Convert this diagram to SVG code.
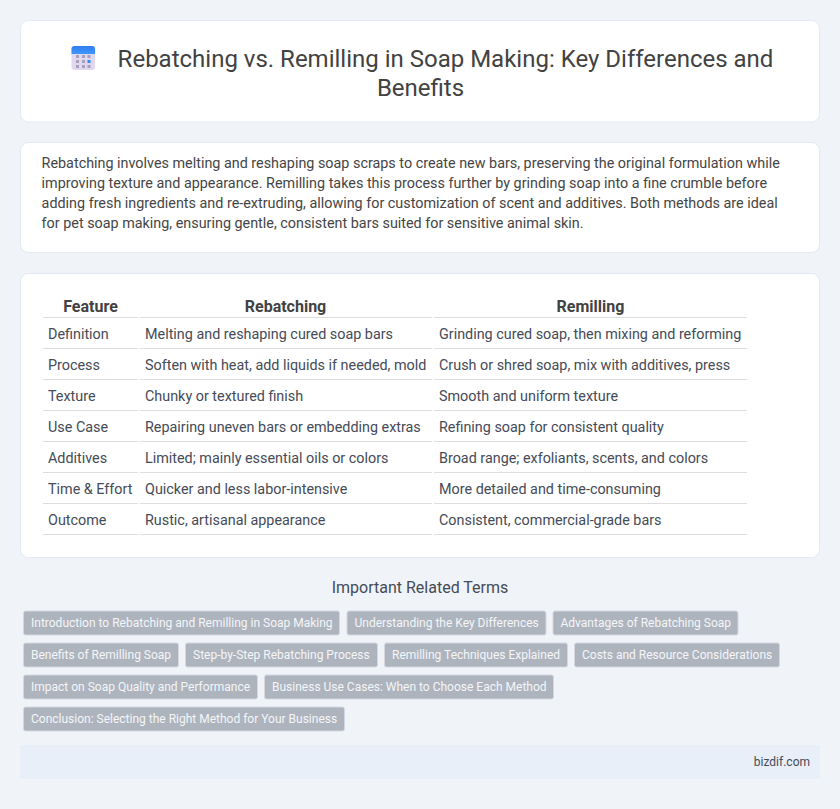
<svg xmlns="http://www.w3.org/2000/svg" width="840" height="809" viewBox="0 0 840 809">
<style>
text{font-family:Roboto,"Liberation Sans",sans-serif;}
.card{fill:#fff;stroke:#e3e8f2;stroke-width:1}
.title{font-size:24px;fill:#424242;text-anchor:middle}
.p{font-size:14.36px;fill:#454545}
.th{font-size:16px;font-weight:700;fill:#424242;text-anchor:middle}
.td{font-size:14.36px;fill:#454b57}
.rule{stroke:#dedede;stroke-width:1}
.tag rect{fill:#aeb4be;stroke:#d5d8de;stroke-width:1}
.tag text{font-size:12px;fill:#f4f6f8}
</style>
<defs><linearGradient id="top" x1="0" y1="0" x2="0" y2="1"><stop offset="0" stop-color="#2f7df0"/><stop offset="1" stop-color="#3f97fa"/></linearGradient></defs>
<rect width="840" height="809" fill="#f0f4f9"/>
<g id="header">
<rect class="card" x="20.500" y="20.500" width="799" height="101.500" rx="8"/>
<rect x="71.500" y="46" width="23.500" height="24" rx="3" fill="#e0d8ee"/>
<path d="M71.500 54V49a3 3 0 0 1 3-3H92a3 3 0 0 1 3 3v5z" fill="url(#top)"/>
<g fill="#ac9fbc"><rect x="76" y="55" width="3" height="3"/><rect x="82" y="55" width="3" height="3"/><rect x="87.500" y="55" width="3" height="3"/><rect x="76" y="60" width="3" height="3"/><rect x="82" y="60" width="3" height="3"/><rect x="76" y="65" width="3" height="3"/><rect x="82" y="65" width="3" height="3"/><rect x="87.500" y="65" width="3" height="3"/></g>
<rect x="87.500" y="60" width="3" height="3" fill="#2f8cf5"/>
<text class="title" x="445.500" y="67">Rebatching vs. Remilling in Soap Making: Key Differences and</text>
<text class="title" x="420.500" y="96">Benefits</text>
</g>
<g id="summary">
<rect class="card" x="20.500" y="142.500" width="799" height="110" rx="8"/>
<text class="p" x="41.600" y="168">Rebatching involves melting and reshaping soap scraps to create new bars, preserving the original formulation while</text>
<text class="p" x="41.600" y="188">improving texture and appearance. Remilling takes this process further by grinding soap into a fine crumble before</text>
<text class="p" x="41.600" y="208">adding fresh ingredients and re-extruding, allowing for customization of scent and additives. Both methods are ideal</text>
<text class="p" x="41.600" y="228">for pet soap making, ensuring gentle, consistent bars suited for sensitive animal skin.</text>
</g>
<g id="comparison">
<rect class="card" x="20.500" y="273.500" width="799" height="284" rx="8"/>
<text class="th" x="90.500" y="312">Feature</text><text class="th" x="285.500" y="312">Rebatching</text><text class="th" x="590.500" y="312">Remilling</text>
<g class="rule">
<path d="M43 317.500H138M140 317.500H432M434 317.500H747"/>
<path d="M43 348.500H138M140 348.500H432M434 348.500H747"/>
<path d="M43 379.500H138M140 379.500H432M434 379.500H747"/>
<path d="M43 410.500H138M140 410.500H432M434 410.500H747"/>
<path d="M43 441.500H138M140 441.500H432M434 441.500H747"/>
<path d="M43 472.500H138M140 472.500H432M434 472.500H747"/>
<path d="M43 503.500H138M140 503.500H432M434 503.500H747"/>
<path d="M43 534.500H138M140 534.500H432M434 534.500H747"/>
</g>
<g class="td">
<text x="48" y="339">Definition</text><text x="145" y="339">Melting and reshaping cured soap bars</text><text x="439" y="339">Grinding cured soap, then mixing and reforming</text>
<text x="48" y="370">Process</text><text x="145" y="370">Soften with heat, add liquids if needed, mold</text><text x="439" y="370">Crush or shred soap, mix with additives, press</text>
<text x="48" y="401">Texture</text><text x="145" y="401">Chunky or textured finish</text><text x="439" y="401">Smooth and uniform texture</text>
<text x="48" y="432">Use Case</text><text x="145" y="432">Repairing uneven bars or embedding extras</text><text x="439" y="432">Refining soap for consistent quality</text>
<text x="48" y="463">Additives</text><text x="145" y="463">Limited; mainly essential oils or colors</text><text x="439" y="463">Broad range; exfoliants, scents, and colors</text>
<text x="48" y="494">Time &amp; Effort</text><text x="145" y="494">Quicker and less labor-intensive</text><text x="439" y="494">More detailed and time-consuming</text>
<text x="48" y="525">Outcome</text><text x="145" y="525">Rustic, artisanal appearance</text><text x="439" y="525">Consistent, commercial-grade bars</text>
</g>
</g>
<text x="420" y="593" text-anchor="middle" font-size="16" fill="#454b57">Important Related Terms</text>
<g id="tags">
<g class="tag"><rect x="23.500" y="611" width="316" height="24" rx="2"/><text x="31" y="627">Introduction to Rebatching and Remilling in Soap Making</text></g>
<g class="tag"><rect x="347" y="611" width="199" height="24" rx="2"/><text x="354.500" y="627">Understanding the Key Differences</text></g>
<g class="tag"><rect x="553" y="611" width="185" height="24" rx="2"/><text x="560.500" y="627">Advantages of Rebatching Soap</text></g>
<g class="tag"><rect x="23.500" y="643" width="155" height="24" rx="2"/><text x="31" y="659">Benefits of Remilling Soap</text></g>
<g class="tag"><rect x="185.500" y="643" width="192" height="24" rx="2"/><text x="193" y="659">Step-by-Step Rebatching Process</text></g>
<g class="tag"><rect x="384.500" y="643" width="183" height="24" rx="2"/><text x="392" y="659">Remilling Techniques Explained</text></g>
<g class="tag"><rect x="574.500" y="643" width="205" height="24" rx="2"/><text x="582" y="659">Costs and Resource Considerations</text></g>
<g class="tag"><rect x="23.500" y="675" width="234" height="24" rx="2"/><text x="31" y="691">Impact on Soap Quality and Performance</text></g>
<g class="tag"><rect x="264.500" y="675" width="289" height="24" rx="2"/><text x="272" y="691">Business Use Cases: When to Choose Each Method</text></g>
<g class="tag"><rect x="23.500" y="707" width="321" height="24" rx="2"/><text x="31" y="723">Conclusion: Selecting the Right Method for Your Business</text></g>
</g>
<g id="footer">
<rect x="20" y="745" width="800" height="34" fill="#e8eff9"/>
<text x="810" y="766" text-anchor="end" font-size="12" fill="#454b57">bizdif.com</text>
</g>
</svg>
